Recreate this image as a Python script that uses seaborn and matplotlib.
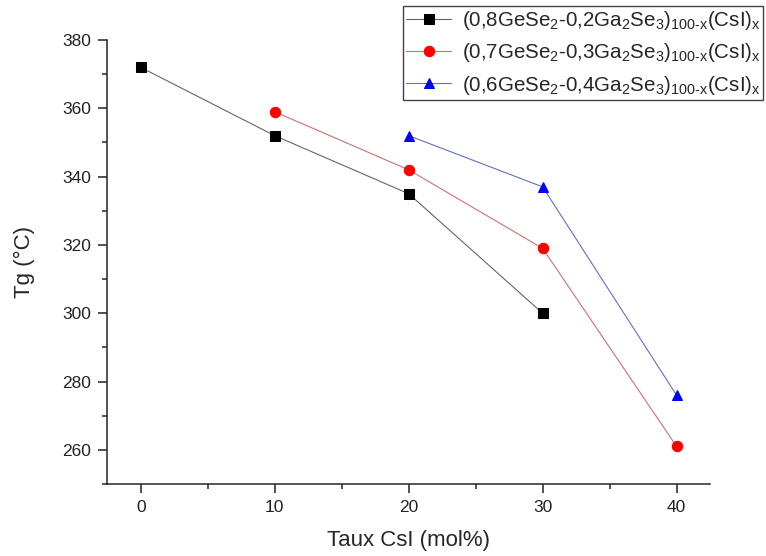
import matplotlib
matplotlib.use("Agg")
import matplotlib.pyplot as plt
import numpy as np
import pandas as pd
import seaborn as sns
from matplotlib.ticker import MultipleLocator

# ---------------------------------------------------------------------------
# Data
# ---------------------------------------------------------------------------
x_08 = [0, 10, 20, 30]
tg_08 = [372, 352, 335, 300]

x_07 = [10, 20, 30, 40]
tg_07 = [359, 342, 319, 261]

x_06 = [20, 30, 40]
tg_06 = [352, 337, 276]

labels = [
    r"(0,8GeSe$_2$-0,2Ga$_2$Se$_3$)$_{100\text{-}\mathrm{x}}$(CsI)$_\mathrm{x}$",
    r"(0,7GeSe$_2$-0,3Ga$_2$Se$_3$)$_{100\text{-}\mathrm{x}}$(CsI)$_\mathrm{x}$",
    r"(0,6GeSe$_2$-0,4Ga$_2$Se$_3$)$_{100\text{-}\mathrm{x}}$(CsI)$_\mathrm{x}$",
]
marker_colors = ["#000000", "#ff0000", "#0000ff"]
line_colors   = ["#666666", "#d07070", "#6070c8"]
markers = ["s", "o", "^"]

frames = []
for lab, xs, ys in zip(labels, [x_08, x_07, x_06], [tg_08, tg_07, tg_06]):
    frames.append(pd.DataFrame({"x": xs, "tg": ys, "serie": lab}))
df = pd.concat(frames, ignore_index=True)

# ---------------------------------------------------------------------------
# Style
# ---------------------------------------------------------------------------
sns.set_style("ticks")
plt.rcParams["font.family"] = ["Liberation Sans", "DejaVu Sans"]
plt.rcParams["mathtext.fontset"] = "custom"
plt.rcParams["mathtext.rm"] = "Liberation Sans"
plt.rcParams["mathtext.it"] = "Liberation Sans:italic"
plt.rcParams["mathtext.bf"] = "Liberation Sans:bold"

fig = plt.figure(figsize=(7.66, 5.56), dpi=100)
ax = fig.add_axes([0.140, 0.1295, 0.787, 0.7985])

for lab, lc, mc, mk in zip(labels, line_colors, marker_colors, markers):
    sub = df[df["serie"] == lab]
    sns.lineplot(data=sub, x="x", y="tg", ax=ax, color=lc, lw=0.8,
                 marker=mk, markersize=7.5, markeredgecolor=mc,
                 markerfacecolor=mc, label=lab, sort=False)

ax.set_xlim(-2.5, 42.5)
ax.set_ylim(250, 380)
ax.xaxis.set_major_locator(MultipleLocator(10))
ax.xaxis.set_minor_locator(MultipleLocator(5))
ax.yaxis.set_minor_locator(MultipleLocator(10))
ax.set_yticks([260, 280, 300, 320, 340, 360, 380])

for side in ["top", "right"]:
    ax.spines[side].set_visible(False)
for side in ["left", "bottom"]:
    ax.spines[side].set_linewidth(1.1)
ax.tick_params(which="major", direction="out", length=6.5, width=1.1,
               labelsize=12.5, pad=5, colors="#222222")
ax.tick_params(which="minor", direction="out", length=3.5, width=1.1)

ax.set_xlabel("Taux CsI (mol%)", fontsize=16, labelpad=11)
ax.set_ylabel("Tg (°C)", fontsize=16, labelpad=20)

# legend pushed against the top right corner of the figure
ax.legend(loc="upper left", bbox_to_anchor=(403 / 766, 1 - 6 / 556),
          bbox_transform=fig.transFigure, fontsize=14.8, frameon=True,
          fancybox=False, edgecolor="#444444", framealpha=1,
          handlelength=2.2, handletextpad=0.5, labelspacing=0.45,
          borderpad=0.15, borderaxespad=0)

fig.savefig("out.png", dpi=100)
